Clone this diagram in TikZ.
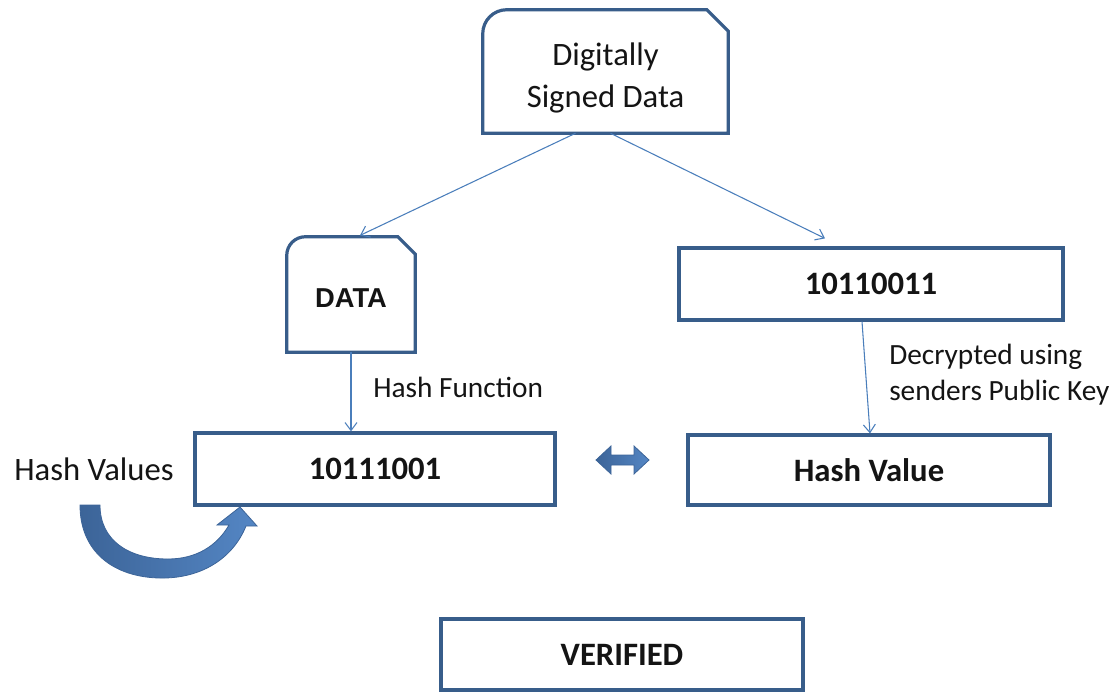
\documentclass[tikz,border=0pt]{standalone}
\usepackage{fontspec}
\setmainfont{Carlito}
\newfontfamily\arialfont{Liberation Sans}
\usetikzlibrary{arrows.meta}
\definecolor{boxline}{RGB}{56,93,138}
\definecolor{linkc}{RGB}{74,126,187}
\definecolor{arrowdark}{RGB}{60,100,152}
\definecolor{arrowlight}{RGB}{84,134,196}
\definecolor{inkc}{RGB}{20,20,20}
\tikzset{
  plainbox/.style={draw=boxline, line width=2.4pt, fill=white, inner sep=0pt, text=inkc},
  shapebox/.style={draw=none, inner sep=0pt, text=inkc},
  outline/.style={draw=boxline, line width=2.4pt, fill=white},
  link/.style={draw=linkc, line width=0.8pt, -{Straight Barb[length=6pt,width=9pt,line width=0.8pt]}},
  bigtxt/.style={font=\fontsize{24.5}{31.5}\selectfont},
  bigbold/.style={font=\fontsize{24.5}{29}\selectfont\bfseries},
  smalltxt/.style={font=\fontsize{22}{27}\selectfont, text=inkc},
  blockarrow/.style={left color=arrowdark, right color=arrowlight, draw=arrowdark, line width=0.6pt},
}
% rectangle with a rounded top-left corner and a snipped top-right corner
\newcommand{\roundsnip}[3]{%
  \draw[outline] (#1.south west) -- ([yshift=-#2]#1.north west)
    to[out=90,in=180] ([xshift=#2]#1.north west)
    -- ([xshift=-#3]#1.north east) -- ([yshift=-#3]#1.north east)
    -- (#1.south east) -- cycle;}
\begin{document}
\begin{tikzpicture}[x=0.75pt,y=-0.75pt]
\useasboundingbox (0,0) rectangle (1120,692);

% boxes (coordinates in px: 1px = 0.75pt)
\node[shapebox, minimum width=183.75pt, minimum height=92.25pt] (signed) at (605.5,71.5) {};
\roundsnip{signed}{18pt}{16pt}
\node[bigtxt, align=center, text=inkc] at (605.5,78) {Digitally\\Signed Data};

\node[shapebox, minimum width=96pt, minimum height=86.25pt] (data) at (351,294.5) {};
\roundsnip{data}{14pt}{13pt}
\node[font=\fontsize{20.5}{24}\selectfont\arialfont\bfseries, text=inkc] at (351,298) {DATA};

\node[plainbox, bigbold, minimum width=288pt, minimum height=54pt] (enc) at (871,284) {10110011};
\node[plainbox, bigbold, minimum width=270pt, minimum height=54pt] (hash) at (375,469) {10111001};
\node[plainbox, bigbold, minimum width=271.5pt, minimum height=52.5pt] (hv) at (869,470) {Hash Value};
\node[plainbox, bigbold, minimum width=271.5pt, minimum height=53.25pt] (ver) at (622,654.5) {VERIFIED};

% labels
\node[smalltxt, anchor=west, inner sep=0pt] (hf) at (373,387) {Hash Function};
\node[smalltxt, anchor=west, align=left, inner sep=0pt] (dec) at (889,375) {Decrypted using\\senders Public Key};
\node[bigtxt, text=inkc, inner sep=0pt] (hvs) at (94,469) {Hash Values};

% connectors
\draw[link] ([xshift=-22.5pt]signed.south) -- ([xshift=6.75pt,yshift=1pt]data.north);
\draw[link] ([xshift=3.75pt]signed.south) -- ([xshift=-34.5pt,yshift=6pt]enc.north);
\draw[link] (data.south) -- (data.south |- hash.north);
\draw[link] ([xshift=-6.75pt]enc.south) -- ([xshift=0.75pt]hv.north);

% double-headed block arrow between the two hash results
\coordinate (dl) at (596,460);
\coordinate (dr) at (649,460);
\shade[blockarrow]
  (dl) -- (611,446) -- (611,455) -- (634,455) -- (634,446) -- (dr)
  -- (634,474) -- (634,465) -- (611,465) -- (611,474) -- cycle;

% curved block arrow below "Hash Values"
\shade[blockarrow]
  (80,505) .. controls (80,555) and (118,579) .. (165,578)
  .. controls (205,577) and (234,556) .. (246,526)
  -- (257,526) -- (240,507) -- (217,525) -- (229,525)
  .. controls (217,546) and (196,559) .. (168,559)
  .. controls (128,559) and (100,540) .. (100,505) -- cycle;
\end{tikzpicture}
\end{document}
